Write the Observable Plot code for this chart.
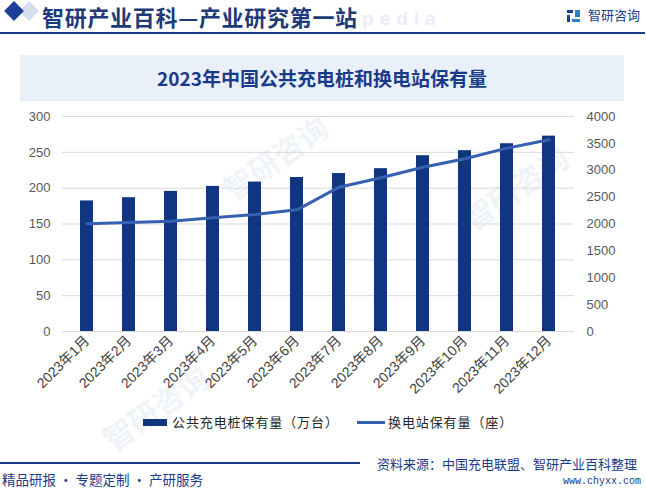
<!DOCTYPE html>
<html>
<head>
<meta charset="utf-8">
<script src="https://cdn.jsdelivr.net/npm/d3@7"></script>
<script src="https://cdn.jsdelivr.net/npm/@observablehq/plot@0.6"></script>
<style>
  html, body { margin: 0; padding: 0; background: #fff; }
  #page { position: relative; width: 646px; height: 493px; overflow: hidden; background: #fff;
    font-family: "Liberation Sans", Arial, "Noto Sans CJK SC", sans-serif; }
  .abs { position: absolute; white-space: nowrap; }
  .wm { position: absolute; color: #f0f4f9; font-family: "Noto Sans CJK SC", sans-serif; font-weight: 700; font-size: 30px; transform: rotate(-35deg); white-space: nowrap; }
</style>
</head>
<body>
<div id="page">
  <!-- faint watermarks -->
  <div class="wm" style="left:95px; top:385px;">智研咨询</div>
  <div class="wm" style="left:215px; top:135px;">智研咨询</div>
  <div class="wm" style="left:455px; top:165px;">智研咨询</div>

  <!-- header -->
  <div class="abs" style="left:22px; top:4px; width:14px; height:14px; background:#d5deee; transform:rotate(45deg);"></div>
  <div class="abs" style="left:7px; top:4px; width:14px; height:14px; background:#1b3f94; transform:rotate(45deg);"></div>
  <div class="abs" style="left:362px; top:8px; font-size:19px; letter-spacing:6px; color:#e9eef6; font-weight:700;">pedia</div>
  <div class="abs" style="left:42px; top:1px; font-size:22px; letter-spacing:0.7px; font-weight:700; color:#1f3a78; font-family:'Noto Sans CJK SC', sans-serif; line-height:30px;">智研产业百科—产业研究第一站</div>
  <div class="abs" style="left:567px; top:10px; width:6px; height:3px; background:#1b3f94;"></div>
  <div class="abs" style="left:575px; top:10px; width:5px; height:7px; background:#2f7fd0;"></div>
  <div class="abs" style="left:567px; top:15px; width:3px; height:7px; background:#1b3f94;"></div>
  <div class="abs" style="left:572px; top:19px; width:8px; height:3px; background:#2f7fd0;"></div>
  <div class="abs" style="left:588px; top:6px; font-size:13px; color:#1a3a8a; font-family:'Noto Sans CJK SC', sans-serif; line-height:18px;">智研咨询</div>
  <div class="abs" style="left:0px; top:32px; width:645px; height:2px; background:#1a3a8a;"></div>

  <!-- title box -->
  <div class="abs" style="left:20px; top:55px; width:604px; height:46px; background:#e9f0fa;"></div>
  <div class="abs" style="left:20px; top:55px; width:604px; height:46px; line-height:46px; text-align:center; font-size:19px; font-weight:700; color:#1a3a8a; font-family:'Noto Sans CJK SC', sans-serif;">2023年中国公共充电桩和换电站保有量</div>

  <div id="chart" class="abs" style="left:0px; top:105px;"></div>

  <!-- legend -->
  <div class="abs" style="left:143px; top:419px; width:24px; height:7px; background:#103680;"></div>
  <div class="abs" style="left:172px; top:413px; font-size:13px; letter-spacing:0.9px; color:#262626; line-height:18px; font-family:'Noto Sans CJK SC', sans-serif;">公共充电桩保有量（万台）</div>
  <div class="abs" style="left:357px; top:421px; width:28px; height:3px; background:#3660b0;"></div>
  <div class="abs" style="left:388px; top:413px; font-size:13px; letter-spacing:0.9px; color:#262626; line-height:18px; font-family:'Noto Sans CJK SC', sans-serif;">换电站保有量（座）</div>

  <!-- footer -->
  <div class="abs" style="left:0px; top:462px; width:360px; height:2px; background:#1a3a8a;"></div>
  <div class="abs" style="left:2px; top:470px; font-size:13.5px; color:#1a3a8a; line-height:18px; font-family:'Noto Sans CJK SC', sans-serif;">精品研报 · 专题定制 · 产研服务</div>
  <div class="abs" style="left:377px; top:455px; font-size:13px; color:#1a3a8a; line-height:18px; font-family:'Noto Sans CJK SC', sans-serif;">资料来源：中国充电联盟、智研产业百科整理</div>
  <div class="abs" style="left:563px; top:476px; font-size:10px; color:#1a3a8a; line-height:12px; font-family:'Liberation Mono', monospace;">www.chyxx.com</div>
</div>

<script>
const months = ["2023年1月","2023年2月","2023年3月","2023年4月","2023年5月","2023年6月","2023年7月","2023年8月","2023年9月","2023年10月","2023年11月","2023年12月"];
const chargingPiles = [182.2, 186.7, 195.5, 202.5, 208.5, 214.9, 220.4, 227.2, 245.3, 252.3, 262.0, 272.6];
const swapStations = [2004, 2028, 2052, 2115, 2177, 2264, 2685, 2859, 3057, 3213, 3411, 3567];
const leftTicks = [0, 50, 100, 150, 200, 250, 300];
const rightTicks = [0, 500, 1000, 1500, 2000, 2500, 3000, 3500, 4000];

const ratio = 300 / 4000;
const bars = months.map((m, i) => ({month: m, value: chargingPiles[i]}));
const line = months.map((m, i) => ({month: m, value: swapStations[i] * ratio}));

const font = "'Liberation Sans', Arial, 'Noto Sans CJK SC', sans-serif";

const chart = Plot.plot({
  width: 646,
  height: 301,
  marginTop: 11,
  marginBottom: 75,
  marginLeft: 62,
  marginRight: 72,
  style: {fontFamily: font, fontSize: "13px", color: "#595959", background: "transparent"},
  x: {domain: months, paddingInner: 0.68, paddingOuter: 0.34, label: null},
  y: {domain: [0, 300], label: null},
  marks: [
    Plot.gridY(leftTicks, {stroke: "#d9d9d9", strokeOpacity: 1, strokeWidth: 1}),
    Plot.barY(bars, {x: "month", y: "value", fill: "#103680"}),
    Plot.line(line, {x: "month", y: "value", stroke: "#3660b0", strokeWidth: 3, curve: "linear"}),
    Plot.axisY(leftTicks, {anchor: "left", tickSize: 0, tickPadding: 12, label: null, fill: "#595959", fontSize: 13}),
    Plot.axisY(rightTicks.map(v => v * ratio), {anchor: "right", tickSize: 0, tickPadding: 12, label: null,
      tickFormat: d => String(Math.round(d / ratio)), fill: "#595959", fontSize: 13}),
    Plot.axisX({tickSize: 0, tickPadding: 7, tickRotate: -45, label: null, fill: "#404040", fontSize: 14}),
    Plot.ruleY([0], {stroke: "#d9d9d9"})
  ]
});
document.getElementById("chart").appendChild(chart);
</script>
</body>
</html>
